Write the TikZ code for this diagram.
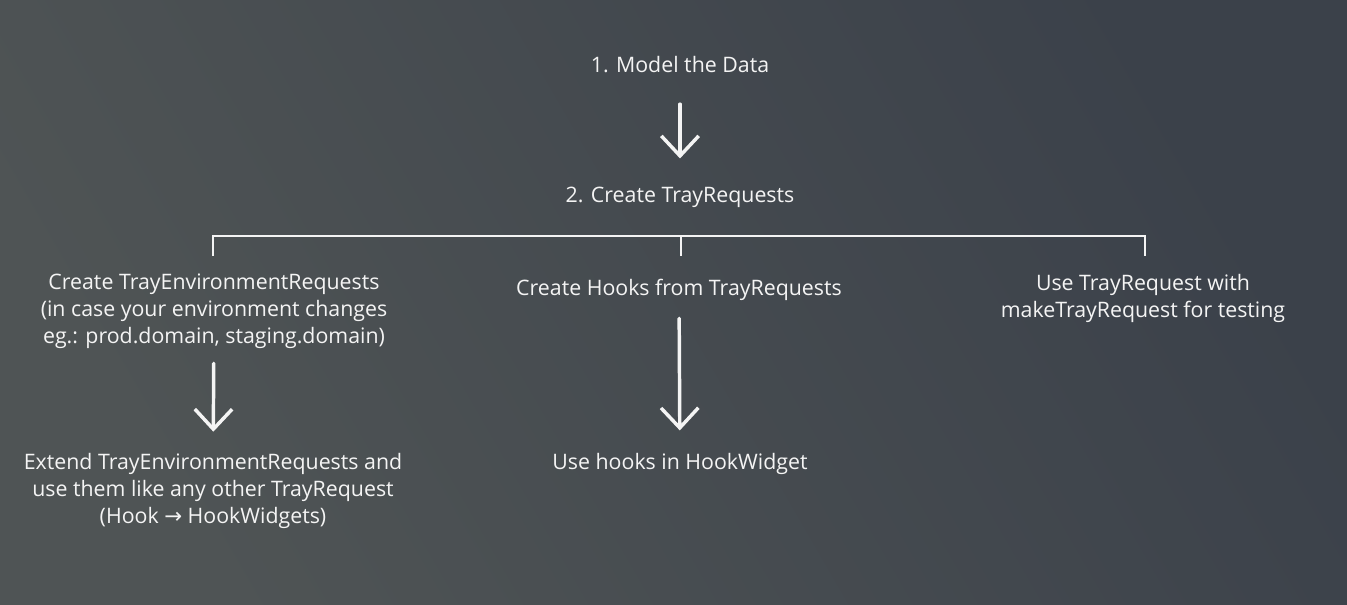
\documentclass[tikz,border=0pt]{standalone}
\usepackage{fontspec}
\setmainfont{Open Sans}
\newfontfamily\symfont{DejaVu Sans}
\usetikzlibrary{arrows.meta}
\definecolor{bglight}{HTML}{4F5455}
\definecolor{bgdark}{HTML}{3B414A}
\definecolor{ink}{HTML}{F4F4F4}

\begin{document}
\begin{tikzpicture}[x=0.75pt, y=-0.75pt, >={Straight Barb[length=15pt, width=28pt]},
    font=\fontsize{16}{20.3}\selectfont,
    txt/.style={text=ink, inner sep=0pt, align=center},
    arr/.style={->, draw=ink, line width=2.6pt, line cap=round},
    brk/.style={draw=ink, line width=1.5pt}]
    % background
    \shade[top color=bgdark, bottom color=bglight, shading angle=-60] (0,0) rectangle (1347,604);

    \node[txt] (model) at (680,65) {1. Model the Data};
    \node[txt] (trayreq) at (680,197) {2. Create TrayRequests};
    \node[txt] (envreq) at (214,311) {Create TrayEnvironmentRequests\\(in case your environment changes\\eg.: prod.domain, staging.domain)};
    \node[txt] (hooks) at (679,290) {Create Hooks from TrayRequests};
    \node[txt] (testing) at (1143,298) {Use TrayRequest with\\makeTrayRequest for testing};
    \node[txt] (extend) at (213,491) {Extend TrayEnvironmentRequests and\\use them like any other TrayRequest\\(Hook {\symfont →} HookWidgets)};
    \node[txt] (widget) at (680,464) {Use hooks in HookWidget};

    % bracket under step 2
    \coordinate (bl) at (213,256);
    \coordinate (bm) at (681,256);
    \coordinate (br) at (1145,256);
    \draw[brk] (bl) -- ++(0,-20) -| (br);
    \draw[brk] (bm) -- ++(0,-20);

    \draw[arr, shorten <=23pt, shorten >=21pt] (model) -- (trayreq);
    \draw[arr, shorten <=11pt, shorten >=16pt] (envreq) -- (extend);
    \draw[arr, shorten <=13pt, shorten >=17pt] (hooks) -- (widget);
\end{tikzpicture}
\end{document}
